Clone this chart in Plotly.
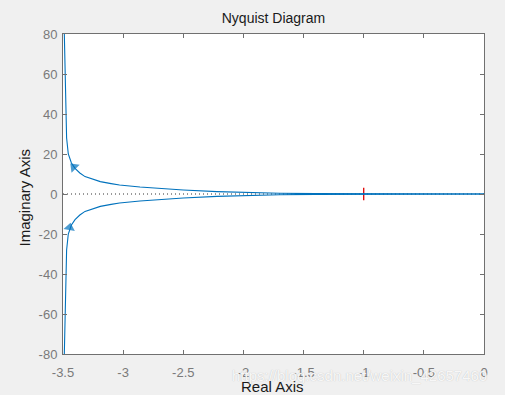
import plotly.graph_objects as go

# Upper branch (negative frequencies)
upper_re = [-3.489, -3.486, -3.482, -3.478, -3.470, -3.456, -3.43, -3.40, -3.36, -3.317,
            -3.25, -3.19, -3.10, -3.03, -2.86, -2.69, -2.50, -2.22, -1.95, -1.70,
            -1.40, -1.00, -0.50, 0.0]
upper_im = [80, 70, 60, 40, 28, 20, 15.5, 12.8, 10.5, 8.7,
            7.3, 6.2, 5.2, 4.5, 3.5, 2.7, 2.0, 1.2, 0.6, 0.35,
            0.2, 0.1, 0.03, 0.0]
# Lower branch (positive frequencies)
lower_re = [-3.489, -3.486, -3.482, -3.478, -3.470, -3.456, -3.43, -3.40, -3.36, -3.317,
            -3.25, -3.19, -3.10, -3.03, -2.86, -2.69, -2.50, -2.22, -1.95, -1.70,
            -1.40, -1.00, -0.50, 0.0]
lower_im = [-80, -70, -60, -40, -28, -20, -15.5, -12.8, -10.5, -8.7,
            -7.3, -6.2, -5.2, -4.5, -3.5, -2.7, -2.0, -1.2, -0.6, -0.35,
            -0.2, -0.1, -0.03, 0.0]

# Arrow positions (previous point, arrow point) giving direction of travel
arrow_up_re = [-3.36, -3.41]
arrow_up_im = [10.5, 13.5]
arrow_lo_re = [-3.456, -3.445]
arrow_lo_im = [-20.5, -16.8]

crit_re = [-1.0]
crit_im = [0.0]
zero_re = [-3.5, 0.0]
zero_im = [0.0, 0.0]

x_ticks = [-3.5, -3, -2.5, -2, -1.5, -1, -0.5, 0]
x_labels = ["-3.5", "-3", "-2.5", "-2", "-1.5", "-1", "-0.5", "0"]
y_ticks = [-80, -60, -40, -20, 0, 20, 40, 60, 80]
y_labels = ["-80", "-60", "-40", "-20", "0", "20", "40", "60", "80"]

blue = "#0072BD"
FONT = "Liberation Sans, Arial"
fig = go.Figure()
fig.add_trace(go.Scatter(x=zero_re, y=zero_im, mode="lines",
                         line=dict(color="#333333", width=1, dash="1px,3px"),
                         hoverinfo="skip"))
fig.add_trace(go.Scatter(x=crit_re, y=crit_im, mode="markers",
                         marker=dict(symbol="line-ns", size=9,
                                     line=dict(color="#e00000", width=1.3))))
fig.add_trace(go.Scatter(x=upper_re, y=upper_im, mode="lines",
                         line=dict(color=blue, width=1.1)))
fig.add_trace(go.Scatter(x=lower_re, y=lower_im, mode="lines",
                         line=dict(color=blue, width=1.1)))
for ax_, ay_ in [(arrow_up_re, arrow_up_im), (arrow_lo_re, arrow_lo_im)]:
    fig.add_trace(go.Scatter(x=ax_, y=ay_, mode="markers",
                             marker=dict(symbol="triangle-up", size=[0, 10],
                                         angleref="previous", color=blue,
                                         line=dict(width=0))))

axis_common = dict(showgrid=False, zeroline=False, showline=True, mirror="ticks",
                   linecolor="#707070", linewidth=1, ticks="inside", ticklen=4,
                   tickcolor="#707070", automargin=False,
                   tickfont=dict(family=FONT, size=13, color="#7a7a7a"))

fig.update_layout(
    width=505, height=395,
    margin=dict(l=63, r=21, t=34, b=41),
    paper_bgcolor="#f0f0f0", plot_bgcolor="white",
    showlegend=False,
    title=dict(text="Nyquist Diagram", x=(63 + 484) / 2 / 505, xanchor="center",
               y=1 - 18 / 395, yanchor="middle",
               font=dict(family=FONT, size=14, color="#1a1a1a")),
    xaxis=dict(range=[-3.5, 0], tickvals=x_ticks, ticktext=x_labels,
               ticklabelstandoff=6, **axis_common),
    yaxis=dict(range=[-80, 80], tickvals=y_ticks, ticktext=y_labels,
               ticklabelstandoff=2, **axis_common),
)
fig.add_annotation(text="Real Axis", xref="paper", yref="paper",
                   x=(272 - 63) / 421, y=-(386 - 354) / 320, xanchor="center", yanchor="middle",
                   showarrow=False, font=dict(family=FONT, size=15, color="#1a1a1a"))
fig.add_annotation(text="Imaginary Axis", xref="paper", yref="paper", textangle=-90,
                   x=-(63 - 24) / 421, y=0.5 - 3.5 / 320, xanchor="center", yanchor="middle",
                   showarrow=False, font=dict(family=FONT, size=15, color="#1a1a1a"))
fig.add_annotation(text="https://blog.csdn.net/weixin_42657460", xref="paper", yref="paper",
                   x=(359 - 63) / 421, y=-(375 - 354) / 320, xanchor="center", yanchor="middle",
                   showarrow=False,
                   font=dict(family=FONT, size=15, color="rgba(255,255,255,0.9)",
                             shadow="0px 0px 1px #b0b0b0"))
fig.write_html("out.html")
